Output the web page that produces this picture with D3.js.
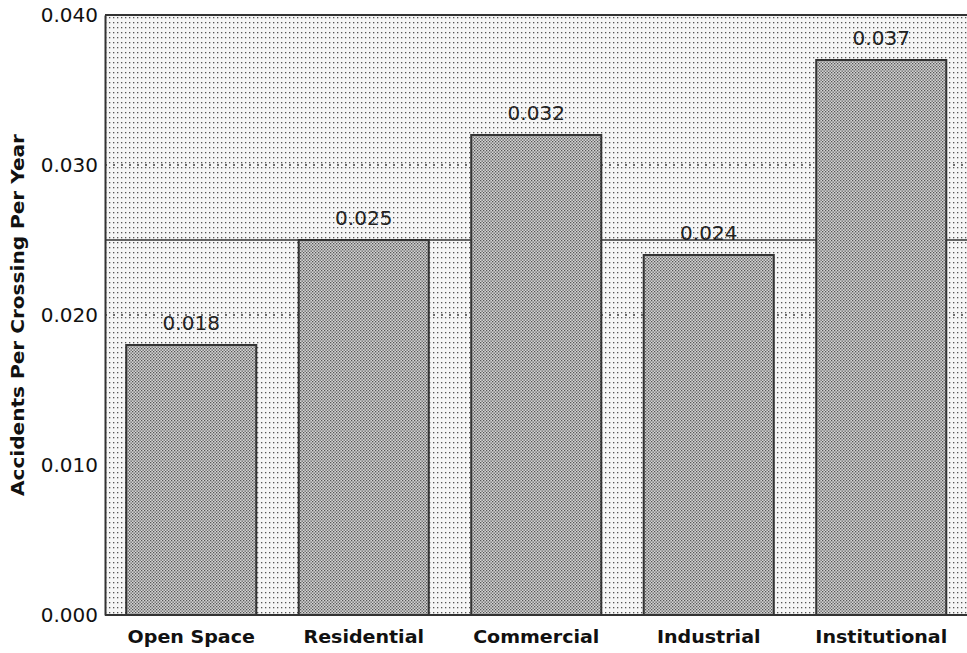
<!DOCTYPE html>
<html>
<head>
<meta charset="utf-8">
<script src="https://cdn.jsdelivr.net/npm/d3@7"></script>
<style>
  body { margin: 0; background: #fff; }
  text { font-family: "DejaVu Sans", Arial, sans-serif; }
</style>
</head>
<body>
<script>
var categories = ["Open Space", "Residential", "Commercial", "Industrial", "Institutional"];
var values = [0.018, 0.025, 0.032, 0.024, 0.037];
var valueLabels = ["0.018", "0.025", "0.032", "0.024", "0.037"];
var yTicks = [0, 0.01, 0.02, 0.03, 0.04];
var gridTicks = [0.02, 0.03];
var average = 0.025;

var width = 967,
    height = 653,
    margin = {top: 15, right: 0, bottom: 38, left: 105};

var svg = d3.select("body").append("svg")
    .attr("width", width)
    .attr("height", height);

// widen text a bit, the original face is broader than what we have
function stretch(sel, f) {
  sel.each(function() {
    var len = this.getComputedTextLength();
    d3.select(this).attr("textLength", len * f).attr("lengthAdjust", "spacingAndGlyphs");
  });
}

var defs = svg.append("defs");

// sparse dot screen for the plot background
var bgPat = defs.append("pattern")
    .attr("id", "bgdots")
    .attr("patternUnits", "userSpaceOnUse")
    .attr("width", 4).attr("height", 5);
bgPat.append("rect").attr("width", 4).attr("height", 5).attr("fill", "#f6f6f6");
bgPat.append("rect").attr("x", 1).attr("y", 2).attr("width", 1.3).attr("height", 1.3).attr("fill", "#555");

// dense checker screen for the bars
var barPat = defs.append("pattern")
    .attr("id", "bardots")
    .attr("patternUnits", "userSpaceOnUse")
    .attr("width", 3).attr("height", 3);
barPat.append("rect").attr("width", 3).attr("height", 3).attr("fill", "#d4d4d4");
barPat.append("rect").attr("x", 0).attr("y", 0).attr("width", 1.3).attr("height", 1.3).attr("fill", "#555");
barPat.append("rect").attr("x", 1.5).attr("y", 1.5).attr("width", 1.3).attr("height", 1.3).attr("fill", "#555");

var x = d3.scaleBand()
    .domain(categories)
    .range([margin.left, width + 0.5])
    .paddingInner(0.246)
    .paddingOuter(0.123);

var y = d3.scaleLinear()
    .domain([0, 0.04])
    .range([height - margin.bottom, margin.top]);

// plot background
svg.append("rect")
    .attr("x", margin.left)
    .attr("y", y(0.04))
    .attr("width", width - margin.left)
    .attr("height", y(0) - y(0.04))
    .attr("fill", "url(#bgdots)");

// dotted gridlines
svg.selectAll(".grid")
    .data(gridTicks)
    .enter().append("line")
    .attr("class", "grid")
    .attr("x1", margin.left).attr("x2", width)
    .attr("y1", function(d) { return y(d); })
    .attr("y2", function(d) { return y(d); })
    .attr("stroke", "#444")
    .attr("stroke-width", 1.4)
    .attr("stroke-dasharray", "2,6");

// average line
svg.append("line")
    .attr("x1", margin.left).attr("x2", width)
    .attr("y1", y(average)).attr("y2", y(average))
    .attr("stroke", "#333")
    .attr("stroke-width", 1.5);

// bars
svg.selectAll(".bar")
    .data(values)
    .enter().append("rect")
    .attr("class", "bar")
    .attr("x", function(d, i) { return x(categories[i]); })
    .attr("y", function(d) { return y(d); })
    .attr("width", x.bandwidth())
    .attr("height", function(d) { return y(0) - y(d); })
    .attr("fill", "url(#bardots)")
    .attr("stroke", "#333")
    .attr("stroke-width", 2);

// value labels
svg.selectAll(".vlabel")
    .data(values)
    .enter().append("text")
    .attr("class", "vlabel")
    .attr("x", function(d, i) { return x(categories[i]) + x.bandwidth() / 2; })
    .attr("y", function(d) { return y(d) - 15; })
    .attr("text-anchor", "middle")
    .attr("font-size", 20)
    .attr("fill", "#222")
    .text(function(d, i) { return valueLabels[i]; });

// frame
svg.append("line")
    .attr("x1", margin.left).attr("x2", width)
    .attr("y1", y(0.04)).attr("y2", y(0.04))
    .attr("stroke", "#333").attr("stroke-width", 2);
svg.append("line")
    .attr("x1", margin.left).attr("x2", width)
    .attr("y1", y(0)).attr("y2", y(0))
    .attr("stroke", "#333").attr("stroke-width", 2);

// y axis
var yAxis = svg.append("g")
    .attr("transform", "translate(" + margin.left + ",0)")
    .call(d3.axisLeft(y).tickValues(yTicks).tickSize(0).tickPadding(7).tickFormat(d3.format(".3f")));
yAxis.select(".domain").attr("stroke", "#333").attr("stroke-width", 2);
yAxis.selectAll("text")
    .attr("font-size", 20)
    .attr("font-family", "\"DejaVu Sans\", Arial, sans-serif")
    .attr("fill", "#111");

// x axis labels
var xAxis = svg.append("g")
    .attr("transform", "translate(0," + y(0) + ")")
    .call(d3.axisBottom(x).tickSize(0).tickPadding(16));
xAxis.select(".domain").remove();
xAxis.selectAll("text")
    .attr("font-size", 17)
    .attr("font-weight", "bold")
    .attr("font-family", "\"DejaVu Sans\", Arial, sans-serif")
    .attr("fill", "#111")
    .call(stretch, 1.12);

// y axis title
svg.append("text")
    .attr("transform", "translate(24," + ((y(0) + y(0.04)) / 2) + ") rotate(-90)")
    .attr("text-anchor", "middle")
    .attr("font-size", 17)
    .attr("font-weight", "bold")
    .attr("fill", "#111")
    .text("Accidents Per Crossing Per Year")
    .attr("textLength", 362)
    .attr("lengthAdjust", "spacingAndGlyphs");
</script>
</body>
</html>
